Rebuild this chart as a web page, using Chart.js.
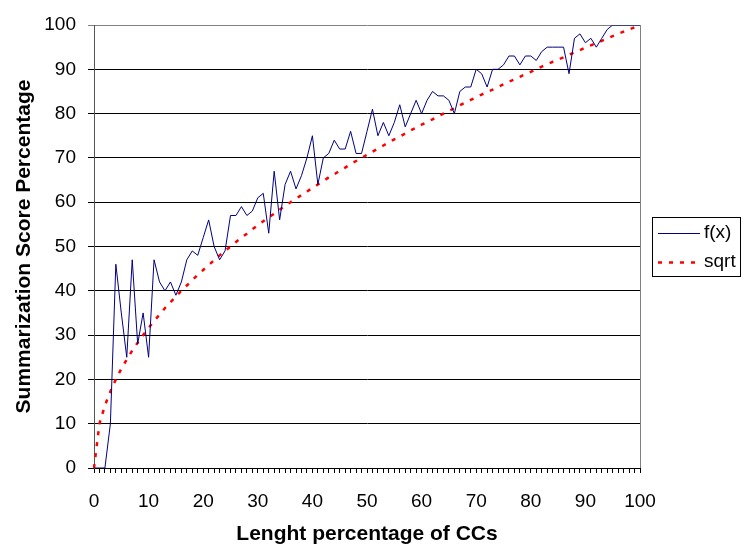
<!DOCTYPE html>
<html>
<head>
<meta charset="utf-8">
<script src="https://cdn.jsdelivr.net/npm/chart.js@4.4.0/dist/chart.umd.min.js"></script>
<style>
  html, body { margin: 0; padding: 0; background: #fff; }
  canvas { display: block; }
</style>
</head>
<body>
<canvas id="chart" width="742" height="545"></canvas>
<script>
// x categories: length percentage 0..100
const lengthPct = Array.from({ length: 101 }, (_, i) => String(i));

// f(x)
const fxValues = [
  0, 0, 0, 10, 46, 35, 25, 47, 28, 35,
  25, 47, 42, 40, 42, 39, 42, 47, 49, 48,
  52, 56, 50, 47, 49, 57, 57, 59, 57, 58,
  61, 62, 53, 67, 56, 64, 67, 63, 66, 70,
  75, 64, 70, 71, 74, 72, 72, 76, 71, 71,
  76, 81, 75, 78, 75, 78, 82, 77, 80, 83,
  80, 83, 85, 84, 84, 83, 80, 85, 86, 86,
  90, 89, 86, 90, 90, 91, 93, 93, 91, 93,
  93, 92, 94, 95, 95, 95, 95, 89, 97, 98,
  96, 97, 95, 97, 99, 100, 100, 100, 100, 100,
  100
];

// sqrt reference curve
const sqrtValues = [
  0, 10, 14.1, 17.3, 20, 22.4, 24.5, 26.5, 28.3, 30,
  31.6, 33.2, 34.6, 36.1, 37.4, 38.7, 40, 41.2, 42.4, 43.6,
  44.7, 45.8, 46.9, 48, 49, 50, 51, 52, 52.9, 53.9,
  54.8, 55.7, 56.6, 57.4, 58.3, 59.2, 60, 60.8, 61.6, 62.4,
  63.2, 64, 64.8, 65.6, 66.3, 67.1, 67.8, 68.6, 69.3, 70,
  70.7, 71.4, 72.1, 72.8, 73.5, 74.2, 74.8, 75.5, 76.2, 76.8,
  77.5, 78.1, 78.7, 79.4, 80, 80.6, 81.2, 81.9, 82.5, 83.1,
  83.7, 84.3, 84.9, 85.4, 86, 86.6, 87.2, 87.7, 88.3, 88.9,
  89.4, 90, 90.6, 91.1, 91.7, 92.2, 92.7, 93.3, 93.8, 94.3,
  94.9, 95.4, 95.9, 96.4, 97, 97.5, 98, 98.5, 99, 99.5,
  100
];

const seriesNames = ['f(x)', 'sqrt'];

const FONT = "'Liberation Sans', Arial, sans-serif";

// right border of the plot + legend box
const extras = {
  id: 'extras',
  afterDraw(chart) {
    const { ctx, chartArea: a } = chart;
    ctx.save();
    ctx.strokeStyle = '#808080';
    ctx.lineWidth = 1;
    ctx.beginPath();
    ctx.moveTo(Math.round(a.right) + 0.5, a.top);
    ctx.lineTo(Math.round(a.right) + 0.5, a.bottom);
    ctx.stroke();

    // legend
    ctx.strokeStyle = '#000';
    ctx.strokeRect(652.5, 217.5, 88, 59);
    const ds = chart.data.datasets;
    const rows = [233, 262];
    ds.forEach((d, i) => {
      ctx.beginPath();
      ctx.strokeStyle = d.borderColor;
      ctx.lineWidth = d.borderWidth;
      ctx.setLineDash(d.borderDash || []);
      ctx.moveTo(658, rows[i] + 0.5);
      ctx.lineTo(700, rows[i] + 0.5);
      ctx.stroke();
      ctx.setLineDash([]);
      ctx.fillStyle = '#000';
      ctx.font = '19px ' + FONT;
      ctx.textBaseline = 'middle';
      ctx.fillText(d.label, 704, rows[i]);
    });
    ctx.restore();
  }
};

new Chart(document.getElementById('chart'), {
  type: 'line',
  data: {
    labels: lengthPct,
    datasets: [
      {
        label: seriesNames[0],
        data: fxValues,
        borderColor: '#000080',
        borderWidth: 1,
        pointRadius: 0,
        tension: 0
      },
      {
        label: seriesNames[1],
        data: sqrtValues,
        borderColor: '#ff0000',
        borderWidth: 2.5,
        borderDash: [4, 7],
        pointRadius: 0,
        tension: 0
      }
    ]
  },
  options: {
    responsive: false,
    animation: false,
    devicePixelRatio: 1,
    layout: { padding: { left: 0, right: 102, top: 25, bottom: 0 } },
    plugins: {
      legend: { display: false },
      tooltip: { enabled: false }
    },
    scales: {
      x: {
        offset: false,
        afterFit(scale) { scale.height = 77; },
        grid: {
          drawOnChartArea: false,
          drawTicks: true,
          tickLength: 5,
          color: '#000'
        },
        border: { color: '#000', width: 1 },
        ticks: {
          autoSkip: false,
          maxRotation: 0,
          padding: 17,
          color: '#000',
          font: { family: FONT, size: 19 },
          callback(v, i) { return i % 10 === 0 ? this.getLabelForValue(v) : ''; }
        },
        title: {
          display: true,
          text: 'Lenght percentage of CCs',
          color: '#000',
          font: { family: FONT, size: 21, weight: 'bold', lineHeight: 1 },
          padding: { top: 0, bottom: 0 }
        }
      },
      y: {
        min: 0,
        max: 100,
        afterFit(scale) { scale.width = 94; },
        grid: {
          color: (c) => (c.tick && c.tick.value === 100 ? '#808080' : '#000'),
          tickLength: 6,
          drawTicks: true
        },
        border: { color: '#555', width: 1 },
        ticks: {
          stepSize: 10,
          padding: 12,
          color: '#000',
          font: { family: FONT, size: 19 }
        },
        title: {
          display: true,
          text: 'Summarization Score Percentage',
          color: '#000',
          font: { family: FONT, size: 21, weight: 'bold', lineHeight: 1 },
          padding: { top: 14, bottom: 0 }
        }
      }
    }
  },
  plugins: [extras]
});
</script>
</body>
</html>
